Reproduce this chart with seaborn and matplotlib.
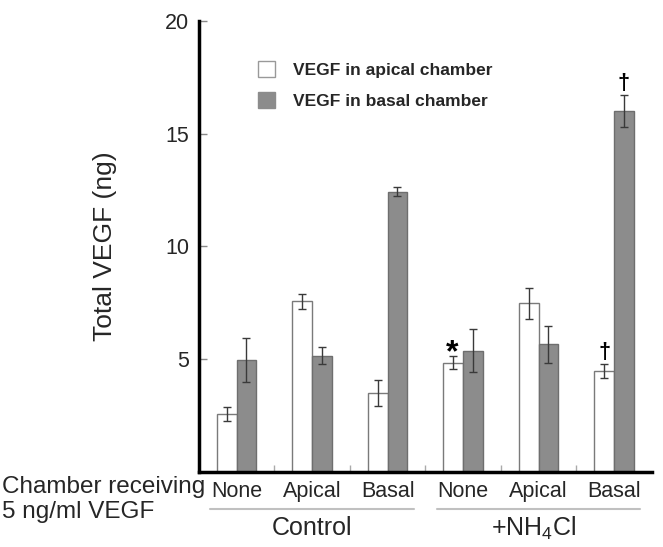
import numpy as np
import pandas as pd
import matplotlib
matplotlib.use("Agg")
import matplotlib.pyplot as plt
import matplotlib.transforms as mtrans
from matplotlib.patches import Patch
import seaborn as sns

# ---------------- data ----------------
treatments = ["Control", "Control", "Control", "+NH$_4$Cl", "+NH$_4$Cl", "+NH$_4$Cl"]
chambers = ["None", "Apical", "Basal", "None", "Apical", "Basal"]
apical_vals = [2.55, 7.56, 3.50, 4.83, 7.46, 4.48]
apical_errs = [0.30, 0.34, 0.58, 0.28, 0.68, 0.31]
basal_vals = [4.95, 5.15, 12.42, 5.37, 5.65, 16.00]
basal_errs = [0.97, 0.38, 0.21, 0.94, 0.82, 0.70]
series = ["VEGF in apical chamber", "VEGF in basal chamber"]
group_names = ["Control", "+NH$_4$Cl"]
yticks = [5, 10, 15, 20]
marks = [(3, 0, "*"), (5, 0, "\u2020"), (5, 1, "\u2020")]  # (bar index, series, symbol)

# ---------------- style ----------------
sns.set_theme(style="white")
plt.rcParams["font.family"] = ["Liberation Sans", "DejaVu Sans"]
plt.rcParams["mathtext.default"] = "regular"

keys = [f"{t}|{c}|{i}" for i, (t, c) in enumerate(zip(treatments, chambers))]
df = pd.DataFrame({
    "key": keys * 2,
    "series": [series[0]] * 6 + [series[1]] * 6,
    "value": apical_vals + basal_vals,
})

fig = plt.figure(figsize=(6.63, 5.47), dpi=100)
ax = fig.add_axes([0.300, 0.138, 0.683, 0.8236])

sns.barplot(data=df, x="key", y="value", hue="series", order=keys,
            hue_order=series, palette=["white", "#8c8c8c"], width=0.52,
            gap=0, errorbar=None, ax=ax, legend=False, linewidth=1.0,
            saturation=1)

edge_cols = ["#7a7a7a", "#6e6e6e"]
errs_all = [apical_errs, basal_errs]
vals_all = [apical_vals, basal_vals]
bar_conts = list(ax.containers)[:2]
centers = []
for si, cont in enumerate(bar_conts):
    xs = []
    for bar in cont:
        bar.set_edgecolor(edge_cols[si])
        xs.append(bar.get_x() + bar.get_width() / 2)
    centers.append(xs)
for si in range(2):
    ax.errorbar(centers[si], vals_all[si], yerr=errs_all[si], fmt="none",
                ecolor="#3a3a3a", elinewidth=1.0, capsize=2.8, capthick=1.0,
                zorder=5)

for bi, si, sym in marks:
    top = vals_all[si][bi] + errs_all[si][bi]
    if sym == "*":
        ax.annotate(sym, xy=(centers[si][bi] - 0.01, top), xytext=(0, -3.5),
                    textcoords="offset points", ha="center", va="baseline",
                    fontsize=23, fontweight="bold", color="black")
    else:
        ax.annotate(sym, xy=(centers[si][bi], top), xytext=(0, 0.8),
                    textcoords="offset points", ha="center", va="bottom",
                    fontsize=15.5, fontweight="bold", color="black")

ax.set_xlim(-0.5, 5.5)
ax.set_ylim(0, 20)
ax.set_yticks(yticks)
ax.set_xticks(range(6))
ax.set_xticklabels(chambers)
ax.set_xticks([0.5, 1.5, 2.5, 3.5, 4.5], minor=True)
ax.set_xlabel("")
ax.set_ylabel("Total VEGF (ng)", fontsize=19)
ax.yaxis.set_label_coords(-0.18, 0.5)

for s in ["top", "right"]:
    ax.spines[s].set_visible(False)
for s in ["left", "bottom"]:
    ax.spines[s].set_linewidth(2.5)
    ax.spines[s].set_color("black")

ax.tick_params(axis="y", direction="in", length=6, width=1, color="#888888",
               labelsize=15.5, pad=7, left=True)
ax.tick_params(axis="x", which="major", length=0, labelsize=15.5, pad=6.5)
ax.tick_params(axis="x", which="minor", direction="in", length=5, width=1,
               color="#aaaaaa", bottom=True)

# group underlines and names
trans = mtrans.blended_transform_factory(ax.transData, ax.transAxes)
name_shift = [0.0, -0.07]
for gi, name in enumerate(group_names):
    lo, hi = gi * 3 - 0.35, gi * 3 + 2.35
    ax.plot([lo, hi], [-0.083, -0.083], transform=trans, clip_on=False,
            color="#c0c0c0", lw=1.5)
    ax.text(gi * 3 + 1 + name_shift[gi], -0.126, name, transform=trans,
            ha="center", va="center", fontsize=18)

fig.text(0.003, 1 - 487 / 547, "Chamber receiving", fontsize=17.5,
         va="center", ha="left")
fig.text(0.003, 1 - 512 / 547, "5 ng/ml VEGF", fontsize=17.5,
         va="center", ha="left")

handles = [Patch(facecolor="white", edgecolor="#999999", lw=1),
           Patch(facecolor="#8c8c8c", edgecolor="#8c8c8c", lw=1)]
fig.legend(handles, series, loc="upper left",
           bbox_to_anchor=(258 / 663, 1 - 61 / 547), frameon=False,
           prop={"weight": "bold", "size": 12.5}, handlelength=1.0,
           handleheight=1.0, handletextpad=1.0, labelspacing=0.83,
           borderpad=0, borderaxespad=0)

fig.savefig("out.png", dpi=100)
